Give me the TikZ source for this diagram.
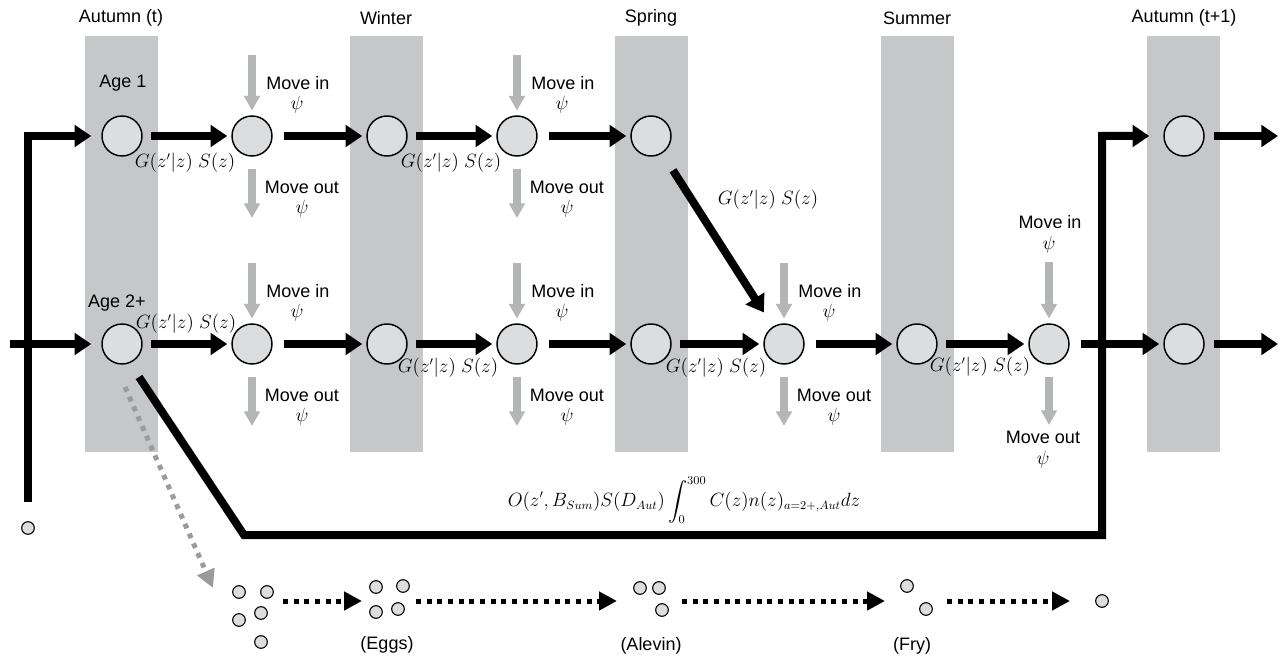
\documentclass[tikz,border=0pt]{standalone}
\usepackage{amsmath}
\usepackage{fontspec}
\setmainfont{Liberation Sans}
\usetikzlibrary{arrows.meta,calc}
\definecolor{barc}{HTML}{C6C7C8}
\definecolor{nodec}{HTML}{DCDDDF}
\definecolor{movec}{HTML}{B4B5B7}
\definecolor{dotgray}{HTML}{9A9B9D}
\newcommand\gsz{$G(z'|z)\;S(z)$}
\begin{document}
\begin{tikzpicture}[x=0.75pt,y=-0.75pt,
  font=\fontsize{13.5}{16.5}\selectfont,
  stage/.style={circle,draw,line width=1.1pt,fill=nodec,minimum size=30pt,inner sep=0pt},
  egg/.style={circle,draw,line width=0.8pt,fill=nodec,minimum size=9.5pt,inner sep=0pt},
  flow/.style={line width=6pt,-{Triangle[length=12.5pt,width=16pt]},shorten <=6pt,shorten >=3pt},
  flowi/.style={flow,shorten <=8.5pt},
  bigline/.style={line width=6pt,line join=miter},
  move/.style={movec,line width=6pt,-{Triangle[length=11pt,width=11.5pt]}},
  movein/.style={move,shorten >=3.5pt},
  moveout/.style={move,shorten <=9pt},
  hatch/.style={line width=3.75pt,dash pattern=on 3.75pt off 4.25pt,-{Triangle[length=13.5pt,width=13.5pt]}},
  grayhatch/.style={hatch,dotgray},
  bar/.style={fill=barc},
  lab/.style={inner sep=0pt,align=center},
  rate/.style={inner sep=0pt}
]
\useasboundingbox (0,0) rectangle (1281,659);

% season bars
\fill[bar] (85,36) rectangle (158,452);
\fill[bar] (350,36) rectangle (423,452);
\fill[bar] (615,36) rectangle (688,452);
\fill[bar] (881,36) rectangle (954,452);
\fill[bar] (1147,36) rectangle (1220,452);

% season titles
\node[lab] (tA) at (121,18) {Autumn (t)};
\node[lab] (tW) at (386,18) {Winter};
\node[lab] (tSp) at (651,18) {Spring};
\node[lab] (tSu) at (917,18) {Summer};
\node[lab] (tA2) at (1184,18) {Autumn (t+1)};

\node[lab] (age1) at (123,83) {Age 1};
\node[lab] (age2) at (117,303) {Age 2+};

% row 1
\node[stage] (A1) at (122,136) {};
\node[stage] (W1a) at (252,136) {};
\node[stage] (W1) at (387,136) {};
\node[stage] (S1a) at (517,136) {};
\node[stage] (S1) at (651,136) {};
\node[stage] (AT1) at (1184,136) {};

% row 2
\node[stage] (A2) at (122,344) {};
\node[stage] (W2a) at (252,344) {};
\node[stage] (W2) at (387,344) {};
\node[stage] (S2a) at (517,344) {};
\node[stage] (Sp2) at (651,344) {};
\node[stage] (Sp2a) at (784,344) {};
\node[stage] (Su2) at (917,344) {};
\node[stage] (Su2a) at (1049,344) {};
\node[stage] (AT2) at (1184,344) {};

% row 1 flows
\draw[flow] (A1) -- (W1a);
\draw[flowi] (W1a) -- (W1);
\draw[flow] (W1) -- (S1a);
\draw[flowi] (S1a) -- (S1);
\coordinate (out1) at (1278,136);
\draw[flow,shorten <=7pt,shorten >=0pt] (AT1) -- (out1);

% row 2 flows
\draw[flow] (A2) -- (W2a);
\draw[flowi] (W2a) -- (W2);
\draw[flow] (W2) -- (S2a);
\draw[flowi] (S2a) -- (Sp2);
\draw[flow] (Sp2) -- (Sp2a);
\draw[flowi] (Sp2a) -- (Su2);
\draw[flow] (Su2) -- (Su2a);
\draw[flowi] (Su2a) -- (AT2);
\coordinate (out2) at (1278,344);
\draw[flow,shorten <=7pt,shorten >=0pt] (AT2) -- (out2);

% diagonal spring -> summer
\draw[flow,shorten <=15pt,shorten >=12.5pt] (S1) -- (Sp2a);
\node[rate] (gsd) at (768,200) {\gsz};

% growth-survival labels
\node[rate] (gs1) at (185,163) {\gsz};
\node[rate] (gs2) at (451,163) {\gsz};
\node[rate] (gs3) at (186,324) {\gsz};
\node[rate] (gs4) at (448,368) {\gsz};
\node[rate] (gs5) at (716,368) {\gsz};
\node[rate] (gs6) at (980,367) {\gsz};

% movement arrows (right-hand labels)
\foreach \n in {W1a,S1a,W2a,S2a,Sp2a}{
  \draw[movein] ($(\n)+(0,-81)$) -- (\n);
  \draw[moveout] (\n) -- ($(\n)+(0,82)$);
  \node[lab] at ($(\n)+(46,-53)$) {Move in};
  \node[lab] at ($(\n)+(45,-31)$) {$\psi$};
  \node[lab] at ($(\n)+(50,51)$) {Move out};
  \node[lab] at ($(\n)+(50,73)$) {$\psi$};
}
% summer movement (labels above / below)
\draw[movein] ($(Su2a)+(0,-82)$) -- (Su2a);
\draw[moveout] (Su2a) -- ($(Su2a)+(0,81)$);
\node[lab] (mi6) at ($(Su2a)+(1,-122)$) {Move in};
\node[lab] (pi6) at ($(Su2a)+(0,-99)$) {$\psi$};
\node[lab] (mo6) at ($(Su2a)+(-6,93)$) {Move out};
\node[lab] (po6) at ($(Su2a)+(-6,116)$) {$\psi$};

% recruitment into age 1 (left)
\coordinate (L0) at (28,502);
\node[egg] (e0) at (28,528) {};
\draw[flow,line join=miter,shorten <=0pt,shorten >=7.5pt] (L0) |- (A1);
\coordinate (L2) at (10,344);
\draw[flow,shorten <=0pt,shorten >=7.5pt] (L2) -- (A2);

% reproduction path to age 1 at t+1
\coordinate (g0) at (139,377);
\coordinate (g1) at (244,535);
\coordinate (g2) at (1102,535);
\draw[bigline,-{Triangle[length=12.5pt,width=16pt]},shorten >=10.5pt] (g0) -- (g1) -- (g2) |- (AT1);
\node[rate] (form) at (684,500) {$\displaystyle O(z',B_{Sum})S(D_{Aut})\int_0^{300}C(z)n(z)_{a=2+,Aut}dz$};

% spawning
\coordinate (d0) at (125,387);
\coordinate (d1) at (213,588);
\draw[grayhatch] (d0) -- (d1);

% early life stages
\node[egg] (s1) at (239,592) {};
\node[egg] (s2) at (267,592) {};
\node[egg] (s3) at (239,620) {};
\node[egg] (s4) at (261,613) {};
\node[egg] (s5) at (261,642) {};

\node[egg] (eg1) at (376,587) {};
\node[egg] (eg2) at (403,586) {};
\node[egg] (eg3) at (376,612) {};
\node[egg] (eg4) at (398,609) {};

\node[egg] (al1) at (640,588) {};
\node[egg] (al2) at (659,588) {};
\node[egg] (al3) at (662,610) {};

\node[egg] (fr1) at (907,586) {};
\node[egg] (fr2) at (926,609) {};

\node[egg] (par) at (1102,601) {};

\coordinate (h1a) at (283,601); \coordinate (h1b) at (362,601);
\coordinate (h2a) at (416,601); \coordinate (h2b) at (617,601);
\coordinate (h3a) at (682,601); \coordinate (h3b) at (885,601);
\coordinate (h4a) at (947,601); \coordinate (h4b) at (1070,601);
\draw[hatch] (h1a) -- (h1b);
\draw[hatch] (h2a) -- (h2b);
\draw[hatch] (h3a) -- (h3b);
\draw[hatch] (h4a) -- (h4b);

\node[lab] (lEggs) at (387,645) {(Eggs)};
\node[lab] (lAl) at (651,646) {(Alevin)};
\node[lab] (lFry) at (912,646) {(Fry)};
\end{tikzpicture}
\end{document}
